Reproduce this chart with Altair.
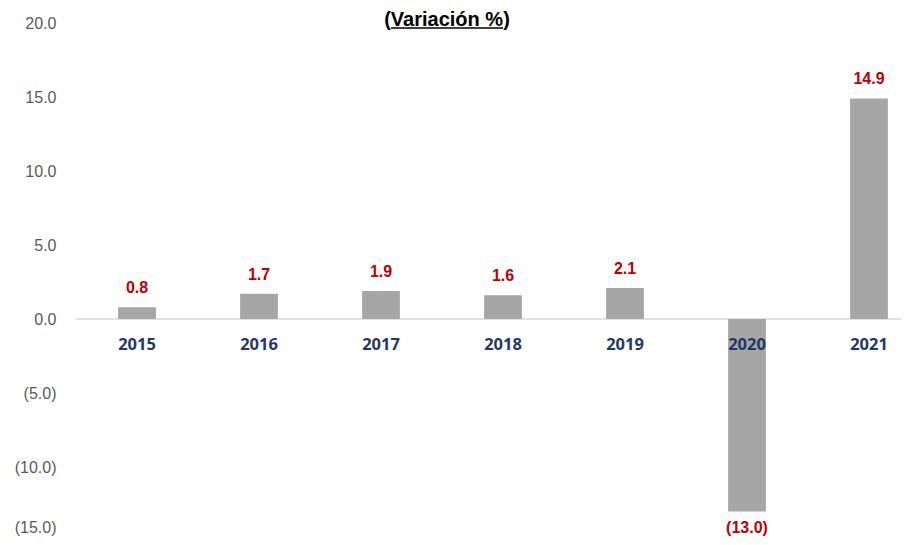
import altair as alt
import pandas as pd

years = ["2015", "2016", "2017", "2018", "2019", "2020", "2021"]
values = [0.8, 1.7, 1.9, 1.6, 2.1, -13.0, 14.9]
title_text = "(Variación %)"
y_ticks = [-15, -10, -5, 0, 5, 10, 15, 20]

df = pd.DataFrame({"year": years, "value": values})
df["label"] = [f"({abs(v):.1f})" if v < 0 else f"{v:.1f}" for v in values]

x_scale = alt.Scale(domain=years, range=[0, 854], paddingInner=0.69, paddingOuter=0.345)
y_scale = alt.Scale(domain=[-15, 20], range=[518, 0], nice=False)

base = alt.Chart(df)

bars = base.mark_bar(color="#a6a6a6").encode(
    x=alt.X("year:N", scale=x_scale, sort=years, axis=None),
    y=alt.Y("value:Q", scale=y_scale,
            axis=alt.Axis(values=y_ticks, title=None, domain=False, ticks=False, grid=False,
                          labelExpr="datum.value < 0 ? '(' + format(-datum.value, '.1f') + ')' : format(datum.value, '.1f')",
                          labelFont="Liberation Sans", labelFontSize=16, labelColor="#595959",
                          labelPadding=20,
                          labelOffset={"condition": {"test": "datum.value == -15", "value": -14}, "value": 0})),
)

zero = alt.Chart(pd.DataFrame({"z": [0]})).mark_rule(color="#d9d9d9", strokeWidth=1.5).encode(
    y=alt.Y("z:Q", scale=y_scale), x=alt.value(0), x2=alt.value(829)
)

pos_labels = base.transform_filter("datum.value >= 0").mark_text(
    font="Liberation Sans", fontWeight="bold", fontSize=16, color="#c00000",
    baseline="alphabetic", dy=-14
).encode(x=alt.X("year:N", scale=x_scale, sort=years), y=alt.Y("value:Q", scale=y_scale), text="label:N")

neg_labels = base.transform_filter("datum.value < 0").mark_text(
    font="Liberation Sans", fontWeight="bold", fontSize=16, color="#c00000",
    baseline="top", dy=9
).encode(x=alt.X("year:N", scale=x_scale, sort=years), y=alt.Y("value:Q", scale=y_scale), text="label:N")

year_labels = base.mark_text(
    font="Open Sans", fontWeight="bold", fontSize=16.5, color="#1f3864", baseline="middle", dy=26
).encode(x=alt.X("year:N", scale=x_scale, sort=years), y=alt.datum(0, scale=y_scale), text="year:N")

title_df = pd.DataFrame({"t": [title_text]})
title = alt.Chart(title_df).mark_text(
    font="Liberation Sans", fontWeight="bold", fontSize=20, color="#000000", baseline="alphabetic"
).encode(text="t:N", x=alt.value(371), y=alt.value(3))
underline = alt.Chart(title_df).mark_rule(color="#000000", strokeWidth=1.5).encode(
    x=alt.value(315), x2=alt.value(427), y=alt.value(5)
)

chart = alt.layer(zero, bars, pos_labels, neg_labels, year_labels, title, underline).properties(
    width=825, height=514,
    autosize=alt.AutoSizeParams(type="none"),
    padding={"left": 68, "top": 15, "right": 0, "bottom": 0},
).configure_view(stroke=None)

chart.save("out.html", embed_options={"renderer": "svg", "actions": False})
